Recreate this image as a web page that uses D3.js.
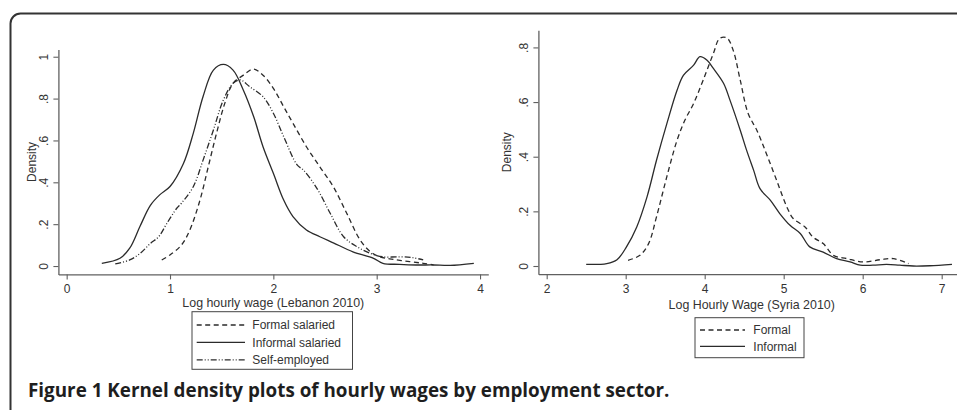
<!DOCTYPE html>
<html>
<head>
<meta charset="utf-8">
<script src="https://cdn.jsdelivr.net/npm/d3@7"></script>
<style>
  html, body { margin: 0; padding: 0; background: #fff; }
  svg { display: block; }
  text { font-family: "Liberation Sans", Arial, sans-serif; fill: #333; }
  text.caption { font-family: "Open Sans", "Noto Sans", sans-serif; font-weight: 700; fill: #1e1e1e; }
</style>
</head>
<body>
<svg id="chart" width="957" height="410"></svg>
<script>
// ---------- Data ----------
// Lebanon 2010: [log hourly wage, density]
const lebFormal = [
  [0.92,0.029],[1.00,0.053],[1.11,0.10],[1.19,0.17],[1.29,0.315],[1.37,0.474],[1.45,0.634],
  [1.53,0.777],[1.61,0.873],[1.71,0.912],[1.806,0.941],[1.90,0.912],[2.00,0.849],[2.10,0.761],
  [2.19,0.682],[2.32,0.57],[2.45,0.474],[2.58,0.379],[2.71,0.252],[2.84,0.124],[2.94,0.068],
  [3.03,0.044],[3.16,0.032],[3.32,0.021],[3.45,0.013],[3.55,0.006]
];
const lebInformal = [
  [0.34,0.013],[0.516,0.037],[0.61,0.085],[0.71,0.19],[0.81,0.29],[0.90,0.34],[1.00,0.38],
  [1.13,0.49],[1.225,0.634],[1.32,0.81],[1.42,0.936],[1.516,0.963],[1.61,0.936],[1.71,0.84],
  [1.81,0.713],[1.90,0.57],[2.00,0.443],[2.10,0.315],[2.19,0.236],[2.32,0.172],[2.45,0.14],
  [2.58,0.111],[2.77,0.068],[2.97,0.037],[3.06,0.013],[3.22,0.008],[3.38,0.005],[3.55,0.005],
  [3.71,0.003],[3.94,0.013]
];
const lebSelf = [
  [0.47,0.01],[0.61,0.029],[0.71,0.06],[0.81,0.108],[0.89,0.14],[0.97,0.204],[1.065,0.276],
  [1.11,0.30],[1.225,0.379],[1.32,0.506],[1.42,0.65],[1.516,0.793],[1.61,0.873],[1.68,0.889],
  [1.77,0.857],[1.90,0.809],[2.00,0.73],[2.10,0.618],[2.23,0.483],[2.29,0.459],[2.39,0.395],
  [2.45,0.347],[2.55,0.252],[2.68,0.14],[2.81,0.092],[2.94,0.06],[3.06,0.044],[3.23,0.044],
  [3.35,0.04],[3.45,0.029]
];
// Syria 2010
const syrFormal = [
  [3.03,0.021],[3.18,0.039],[3.29,0.082],[3.39,0.18],[3.52,0.326],[3.65,0.46],[3.75,0.534],
  [3.86,0.595],[3.98,0.68],[4.11,0.778],[4.19,0.833],[4.28,0.835],[4.36,0.79],[4.45,0.68],
  [4.55,0.558],[4.66,0.497],[4.78,0.412],[4.91,0.314],[5.04,0.216],[5.12,0.174],[5.27,0.143],
  [5.37,0.106],[5.50,0.082],[5.63,0.039],[5.80,0.027],[6.01,0.015],[6.22,0.023],[6.39,0.027],
  [6.58,0.009]
];
const syrInformal = [
  [2.50,0.006],[2.76,0.009],[2.89,0.023],[3.01,0.07],[3.14,0.143],[3.27,0.253],[3.39,0.387],
  [3.52,0.52],[3.65,0.643],[3.73,0.698],[3.86,0.735],[3.94,0.766],[4.03,0.753],[4.11,0.723],
  [4.24,0.668],[4.32,0.607],[4.45,0.497],[4.53,0.424],[4.62,0.35],[4.70,0.283],[4.83,0.241],
  [4.95,0.192],[5.08,0.149],[5.21,0.119],[5.33,0.07],[5.50,0.051],[5.67,0.027],[5.84,0.015],
  [5.97,0.003],[6.13,0.003],[6.30,0.006],[6.47,0.003],[6.64,0.0],[6.85,0.001],[7.13,0.006]
];

const lebXTicks = [0, 1, 2, 3, 4];
const lebYTicks = [0, 0.2, 0.4, 0.6, 0.8, 1];
const syrXTicks = [2, 3, 4, 5, 6, 7];
const syrYTicks = [0, 0.2, 0.4, 0.6, 0.8];
const yTickFmt = v => v === 0 ? "0" : (v === 1 ? "1" : String(v).replace(/^0/, ""));

const lebXTitle = "Log hourly wage (Lebanon 2010)";
const syrXTitle = "Log Hourly Wage (Syria 2010)";
const yTitle = "Density";
const lebLegend = ["Formal salaried", "Informal salaried", "Self-employed"];
const syrLegend = ["Formal", "Informal"];
const caption = "Figure 1 Kernel density plots of hourly wages by employment sector.";

// ---------- Drawing ----------
const svg = d3.select("#chart");
const INK = "#2b2b2b";
const AXIS = "#606060";
const DASH = "5,3.5";
const DASHDOT = "6,2,1,2,1,2";

// Frame
svg.append("rect")
  .attr("x", 10.5).attr("y", 13.5).attr("width", 970).attr("height", 430)
  .attr("rx", 10).attr("fill", "none").attr("stroke", "#333").attr("stroke-width", 2);

function panel(cfg) {
  const g = svg.append("g");
  const x = d3.scaleLinear().domain(cfg.xDom).range(cfg.xRange);
  const y = d3.scaleLinear().domain(cfg.yDom).range(cfg.yRange);

  // x axis
  const xa = g.append("g").attr("transform", `translate(0,${cfg.yRange[0]})`)
    .call(d3.axisBottom(x).tickValues(cfg.xTicks).tickSize(5).tickSizeOuter(0).tickPadding(5).tickFormat(d3.format("d")));
  xa.select(".domain").attr("stroke", AXIS).attr("stroke-width", 1.3);
  xa.selectAll(".tick line").attr("stroke", AXIS).attr("stroke-width", 1.1);
  xa.selectAll(".tick text").attr("font-size", 12).attr("fill", "#333");

  // y axis
  const ya = g.append("g").attr("transform", `translate(${cfg.xRange[0]},0)`)
    .call(d3.axisLeft(y).tickValues(cfg.yTicks).tickSize(5).tickSizeOuter(0).tickFormat(yTickFmt));
  ya.select(".domain").attr("stroke", AXIS).attr("stroke-width", 1.3);
  ya.selectAll(".tick line").attr("stroke", AXIS).attr("stroke-width", 1.1);
  ya.selectAll(".tick text")
    .attr("font-size", 12).attr("fill", "#333")
    .attr("x", null).attr("dy", null)
    .attr("text-anchor", "middle")
    .attr("transform", "translate(-10.7,0) rotate(-90)");

  // axis titles
  g.append("text").attr("x", cfg.xTitlePos[0]).attr("y", cfg.xTitlePos[1])
    .attr("text-anchor", "middle").attr("font-size", 12.4).text(cfg.xTitle);
  g.append("text")
    .attr("transform", `translate(${cfg.yTitleX},${(cfg.yRange[0] + cfg.yRange[1]) / 2}) rotate(-90)`)
    .attr("text-anchor", "middle").attr("font-size", 12).text(yTitle);

  // curves
  const line = d3.line().x(d => x(d[0])).y(d => y(d[1])).curve(d3.curveCatmullRom.alpha(0.5));
  cfg.series.forEach(s => {
    g.append("path").datum(s.data).attr("d", line)
      .attr("fill", "none").attr("stroke", INK).attr("stroke-width", 1.3)
      .attr("stroke-dasharray", s.dash || null);
  });

  // legend
  const L = cfg.legend;
  g.append("rect").attr("x", L.box[0]).attr("y", L.box[1]).attr("width", L.box[2]).attr("height", L.box[3])
    .attr("fill", "#fff").attr("stroke", "#444").attr("stroke-width", 1);
  cfg.series.forEach((s, i) => {
    const yy = L.rows[i];
    g.append("line").attr("x1", L.lineX[0]).attr("x2", L.lineX[1]).attr("y1", yy).attr("y2", yy)
      .attr("stroke", INK).attr("stroke-width", 1.3).attr("stroke-dasharray", s.dash || null);
    g.append("text").attr("x", L.textX).attr("y", yy + 4.3).attr("font-size", 12).text(s.name);
  });
}

panel({
  xDom: [-0.08, 4.08], xRange: [58.4, 488.3],
  yDom: [-0.04, 1.035], yRange: [274.4, 49.4],
  xTicks: lebXTicks, yTicks: lebYTicks,
  xTitle: lebXTitle, xTitlePos: [273.3, 306.5], yTitleX: 36,
  series: [
    { name: lebLegend[0], data: lebFormal, dash: DASH },
    { name: lebLegend[1], data: lebInformal },
    { name: lebLegend[2], data: lebSelf, dash: DASHDOT }
  ],
  legend: { box: [192, 311.7, 160.5, 57.6], rows: [325, 342.3, 359.8], lineX: [196.7, 245], textX: 252.3 }
});

panel({
  xDom: [1.895, 7.19], xRange: [538.4, 956.7],
  yDom: [-0.03, 0.863], yRange: [274.2, 30.2],
  xTicks: syrXTicks, yTicks: syrYTicks,
  xTitle: syrXTitle, xTitlePos: [751.7, 309], yTitleX: 510.5,
  series: [
    { name: syrLegend[0], data: syrFormal, dash: DASH },
    { name: syrLegend[1], data: syrInformal }
  ],
  legend: { box: [695, 317.7, 109, 40], rows: [330, 346.3], lineX: [700, 745], textX: 753.3 }
});

// Caption
const cap = svg.append("text").attr("class", "caption").attr("x", 28).attr("y", 397)
  .attr("font-size", 18).text(caption);
const w = cap.node().getComputedTextLength();
cap.attr("font-size", 18 * 642 / w);
</script>
</body>
</html>
